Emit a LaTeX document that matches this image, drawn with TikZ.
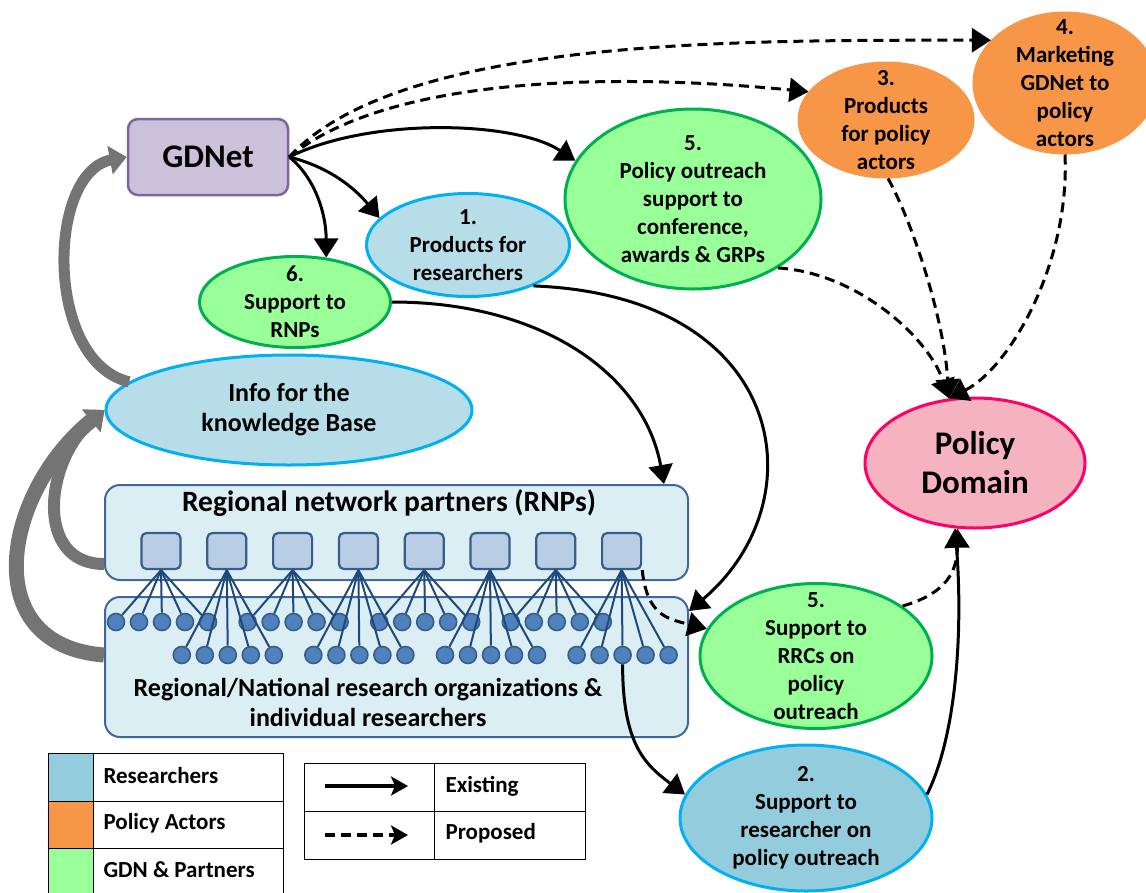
\documentclass[tikz,border=0pt]{standalone}
\usepackage{fontspec}
\setmainfont{Carlito}
\usetikzlibrary{arrows.meta,shapes.geometric}
\definecolor{cyanline}{HTML}{00B0F0}
\definecolor{resfill}{HTML}{B7DEE8}
\definecolor{resdark}{HTML}{93CDDD}
\definecolor{greenfill}{HTML}{99FF99}
\definecolor{greenline}{HTML}{00B050}
\definecolor{orangefill}{HTML}{F79646}
\definecolor{pinkfill}{HTML}{F4B3BF}
\definecolor{pinkline}{HTML}{FF0066}
\definecolor{lilac}{HTML}{CCC1DA}
\definecolor{lilacline}{HTML}{8064A2}
\definecolor{bandfill}{HTML}{DAEEF3}
\definecolor{bandline}{HTML}{41689A}
\definecolor{sqfill}{HTML}{B9CDE5}
\definecolor{sqline}{HTML}{385D8A}
\definecolor{dotfill}{HTML}{4F81BD}
\definecolor{linkblue}{HTML}{1F497D}
\definecolor{feedgray}{HTML}{747474}
\begin{document}
\begin{tikzpicture}[x=1pt,y=-1pt,
  every node/.style={font=\fontsize{23}{28}\selectfont\bfseries, align=center},
  bubble/.style={ellipse, line width=3pt, inner xsep=0pt, inner ysep=-18pt},
  researchers/.style={bubble, draw=cyanline, fill=resfill},
  partners/.style={bubble, draw=greenline, fill=greenfill},
  actors/.style={bubble, draw=orangefill, fill=orangefill},
  band/.style={draw=bandline, fill=bandfill, line width=2pt, rounded corners=15pt, minimum width=583pt},
  bandtext/.style={font=\fontsize{26}{30}\selectfont\bfseries},
  bigtext/.style={font=\fontsize{33}{39}\selectfont\bfseries},
  rnpsq/.style={draw=sqline, fill=sqfill, line width=2.2pt, rounded corners=5pt, minimum width=39pt, minimum height=36pt, inner sep=0pt},
  member/.style={circle, draw=sqline, fill=dotfill, line width=1.6pt, minimum size=17pt, inner sep=0pt},
  link/.style={draw=linkblue, line width=2pt},
  existing/.style={-{Triangle[length=19pt,width=24pt]}, line width=3pt},
  proposed/.style={existing, dash pattern=on 10pt off 6pt},
  feed/.style={-{Triangle[length=17pt,width=28pt]}, draw=feedgray},
  legarrow/.style={-{Stealth[length=17pt,width=19pt,inset=4pt]}, line width=4pt},
  legtext/.style={anchor=west, font=\fontsize{23}{27}\selectfont\bfseries}]
\useasboundingbox (0,0) rectangle (1146,892);

\node[band, minimum height=95pt] (rnpbox) at (396.5,532.5) {};
\node[band, minimum height=140pt] (orgbox) at (396.5,667) {};
\node[font=\fontsize{29.5}{34}\selectfont\bfseries] (rnptitle) at (389,503) {Regional network partners (RNPs)};
\node[bandtext] (orgtitle) at (368,702) {Regional/National research organizations \&\\individual researchers};

\foreach \i/\row in {0/622,1/655,2/622,3/655,4/622,5/655,6/622,7/655}{
  \node[rnpsq] (s\i) at ({161+65.8*\i},551) {};
  \foreach \j in {0,...,4}
    \node[member] (m\i\j) at ({162+65.8*\i+23*(\j-2)},\row) {};
}
\foreach \i in {0,...,7}
  \foreach \j in {0,...,4}
    \draw[link] (s\i.south) -- (m\i\j);

\node[draw=lilacline, fill=lilac, line width=2.5pt, rounded corners=10pt, minimum width=160pt, minimum height=76pt, bigtext] (gdnet) at (208,157) {GDNet};
\node[researchers, minimum width=203pt, minimum height=103pt] (prodres) at (468,245) {1.\\Products for\\researchers};
\node[partners, minimum width=191pt, minimum height=91pt] (suprnp) at (295,302) {6.\\Support to\\RNPs};
\node[partners, minimum width=256pt, minimum height=180pt] (outreach) at (693,199) {5.\\Policy outreach\\support to\\conference,\\awards \& GRPs};
\node[actors, minimum width=174pt, minimum height=114pt] (prodpol) at (886,120) {3.\\Products\\for policy\\actors};
\node[actors, minimum width=182pt, minimum height=140pt] (market) at (1065,83) {4.\\Marketing\\GDNet to\\policy\\actors};
\node[bubble, draw=pinkline, fill=pinkfill, minimum width=220pt, minimum height=130pt, bigtext] (domain) at (975,463) {Policy\\Domain};
\node[researchers, minimum width=366pt, minimum height=110pt, bandtext] (info) at (289,410) {Info for the\\knowledge Base};
\node[partners, minimum width=232pt, minimum height=145pt] (rrc) at (816,656) {5.\\Support to\\RRCs on\\policy\\outreach};
\node[researchers, fill=resdark, minimum width=252pt, minimum height=146pt] (supres) at (806,818) {2.\\Support to\\researcher on\\policy outreach};

\draw[existing] (gdnet.east) .. controls +(25,20) and +(0,-45) .. (suprnp.55);
\draw[existing] (gdnet.east) .. controls +(40,10) and +(-25,-30) .. (prodres.163);
\draw[existing] (gdnet.east) .. controls +(80,-40) and +(-60,-40) .. (outreach.162);
\draw[proposed] (gdnet.east) .. controls +(110,-120) and +(-250,0) .. (market.150);
\draw[proposed] (gdnet.east) .. controls +(110,-90) and +(-150,-15) .. (prodpol.160);
\draw[existing] (suprnp.east) .. controls +(150,0) and +(-20,-110) .. ([xshift=-25pt]rnpbox.north east);
\draw[existing] (prodres.-32) .. controls +(255,10) and +(130,-110) .. ([yshift=-15pt]orgbox.north east);
\draw[existing] (m72.south) .. controls +(0,80) and +(-40,-30) .. (supres.169);
\draw[existing] (supres.11) .. controls +(30,-60) and +(8,100) .. (domain.-107);
\draw[proposed] (s7.south east) .. controls +(5,45) and +(-40,-10) .. (rrc.166);
\draw[proposed] (rrc.30) .. controls +(35,-10) and +(0,50) .. (domain.-105);
\draw[proposed] (outreach.-39) .. controls +(80,5) and +(-20,-60) .. (domain.112);
\draw[proposed] (prodpol.-88) .. controls +(25,45) and +(-5,-80) .. (domain.112);
\draw[proposed] (market.-90) .. controls +(5,110) and +(60,-30) .. (domain.112);

\draw[feed, line width=11pt] (info.170) .. controls +(-85,-20) and +(-80,15) .. (gdnet.west);
\draw[feed, line width=12pt] ([yshift=17pt]rnpbox.south west) .. controls +(-70,0) and +(-60,50) .. (info.west);
\draw[feed, line width=15pt] ([yshift=12pt]orgbox.west) .. controls +(-130,-10) and +(-100,80) .. (info.west);

\fill[resdark] (48,753) rectangle (93,801);
\fill[orangefill] (48,801) rectangle (93,848);
\fill[greenfill] (48,848) rectangle (93,900);
\draw[line width=1pt] (48,753) rectangle (283,900);
\draw[line width=1pt] (93,753) -- (93,900);
\draw[line width=1pt] (48,801) -- (283,801);
\draw[line width=1pt] (48,848) -- (283,848);
\node[legtext] (lres) at (100,776) {Researchers};
\node[legtext] (lact) at (100,823) {Policy Actors};
\node[legtext] (lgdn) at (100,870) {GDN \& Partners};

\draw[line width=1pt] (304,763) rectangle (585,859);
\draw[line width=1pt] (434,763) -- (434,859);
\draw[line width=1pt] (304,811) -- (585,811);
\coordinate (exa) at (325,786);
\coordinate (exb) at (408,786);
\coordinate (pra) at (325,835);
\coordinate (prb) at (408,835);
\draw[legarrow] (exa) -- (exb);
\draw[legarrow, dash pattern=on 10pt off 6pt] (pra) -- (prb);
\node[legtext] (lex) at (442,786) {Existing};
\node[legtext] (lpro) at (442,833) {Proposed};
\end{tikzpicture}
\end{document}
